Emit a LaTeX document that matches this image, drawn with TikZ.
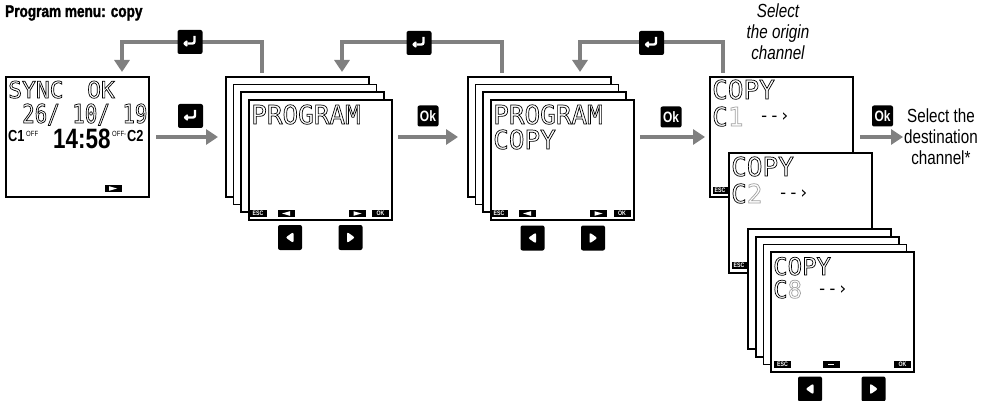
\documentclass[tikz,border=0pt]{standalone}
\usepackage{fontspec}
\setmainfont{Liberation Sans}
\newfontfamily\cond[FakeStretch=0.8]{Liberation Sans}
\newfontfamily\condb[FakeStretch=0.8,FakeBold=1.6]{Liberation Sans Bold}
\newfontfamily\lcd{DejaVu Sans Mono}
\newfontfamily\lcdn[FakeStretch=0.8]{DejaVu Sans Mono}
\usetikzlibrary{arrows.meta}
\definecolor{conng}{RGB}{128,128,128}
\definecolor{digg}{RGB}{160,160,160}
\newcommand\olt[1]{\special{pdf:literal direct 1 Tr 0.7 w}#1\special{pdf:literal direct 0 Tr 0.4 w}}
\begin{document}
\begin{tikzpicture}[x=1pt,y=-1pt,
  sheet/.style={draw=black, fill=white, line width=1.2pt, minimum width=143pt, minimum height=120pt, inner sep=0pt, outer sep=0pt, anchor=north west},
  conn/.style={draw=conng, line width=4.5pt, -{Triangle[length=12pt,width=15pt]}},
  lcdtxt/.style={anchor=base west, inner sep=0pt, font=\lcd\fontsize{26}{26}\selectfont},
  arrtxt/.style={anchor=base west, inner sep=0pt, font=\lcd\fontsize{17}{17}\selectfont},
  plain/.style={anchor=base west, inner sep=0pt},
  bk/.style={fill=black, inner sep=0pt, text=white},
  sbtn/.style={bk, minimum width=17pt, minimum height=7pt},
  stxt/.style={sbtn, font=\cond\bfseries\fontsize{6.5}{6.5}\selectfont},
  srtri/.style={sbtn, path picture={\coordinate (pc) at (path picture bounding box.center);
     \fill[white] ([shift={(-4,-2.3)}]pc) -- ([shift={(4,0)}]pc) -- ([shift={(-4,2.3)}]pc) -- cycle;}},
  sltri/.style={sbtn, path picture={\coordinate (pc) at (path picture bounding box.center);
     \fill[white] ([shift={(4,-2.3)}]pc) -- ([shift={(-4,0)}]pc) -- ([shift={(4,2.3)}]pc) -- cycle;}},
  sdash/.style={sbtn, path picture={\coordinate (pc) at (path picture bounding box.center);
     \fill[white] ([shift={(-3,-0.9)}]pc) rectangle ([shift={(3,0.9)}]pc);}},
  nbtn/.style={bk, minimum width=24pt, minimum height=25pt, rounded corners=2pt},
  nl/.style={nbtn, path picture={\coordinate (pc) at (path picture bounding box.center);
     \fill[white] ([shift={(-4.5,0)}]pc) -- ([shift={(3.5,-5.5)}]pc) -- ([shift={(3.5,5.5)}]pc) -- cycle;}},
  nr/.style={nbtn, path picture={\coordinate (pc) at (path picture bounding box.center);
     \fill[white] ([shift={(4.5,0)}]pc) -- ([shift={(-3.5,-5.5)}]pc) -- ([shift={(-3.5,5.5)}]pc) -- cycle;}},
  entb/.style={bk, minimum width=25pt, minimum height=24pt, rounded corners=2pt,
     path picture={\coordinate (pc) at (path picture bounding box.center);
     \draw[white, line width=2.4pt] ([shift={(4.5,-6)}]pc) -- ([shift={(4.5,1.5)}]pc) -- ([shift={(-2.5,1.5)}]pc);
     \fill[white] ([shift={(-7.5,1.5)}]pc) -- ([shift={(-2.5,-2.5)}]pc) -- ([shift={(-2.5,5.5)}]pc) -- cycle;}},
  okb/.style={bk, minimum width=21pt, minimum height=21pt, rounded corners=2pt, font=\cond\bfseries\fontsize{15}{15}\selectfont}
]
\useasboundingbox (0,0) rectangle (986,401);

% title
\node[plain, font=\condb\fontsize{17}{17}\selectfont] (title) at (5,17) {Program menu: copy};

% screen 1
\node[sheet, line width=1.6pt] (s1) at (6,77) {};
\node[lcdtxt, font=\lcd\fontsize{23}{23}\selectfont] (s1a) at (8,98) {\olt{SYNC}};
\node[lcdtxt, font=\lcd\fontsize{23}{23}\selectfont] (s1b) at (87,98) {\olt{OK}};
\node[plain, font=\lcdn\fontsize{26}{26}\selectfont] (s1c) at (22,123) {\olt{26/ 10/ 19}};
\node[plain, font=\cond\bfseries\fontsize{16}{16}\selectfont] (c1l) at (8,142) {C1};
\node[plain, font=\cond\fontsize{7.5}{7.5}\selectfont] (off1) at (26,137) {OFF};
\node[plain, font=\cond\bfseries\fontsize{28}{28}\selectfont] (time) at (53,149) {14:58};
\node[plain, font=\cond\fontsize{7.5}{7.5}\selectfont] (off2) at (112,137) {OFF-};
\node[plain, font=\cond\bfseries\fontsize{16}{16}\selectfont] (c2l) at (127,142) {C2};
\node[srtri] (s1btn) at (113,188.5) {};

% stack 2
\node[sheet] (s2a) at (226,77) {};
\node[sheet] (s2b) at (233.5,84.5) {};
\node[sheet] (s2c) at (241,92) {};
\node[sheet] (s2d) at (249,100) {};
\node[lcdtxt] (t2) at (251,124) {\olt{PROGRAM}};
\node[stxt] (esc2) at (258,213.5) {ESC};
\node[sltri] (l2) at (286,213.5) {};
\node[srtri] (r2) at (357.5,213.5) {};
\node[stxt] (ok2) at (380.5,213.5) {OK};
\node[nl] (nl2) at (290,237.5) {};
\node[nr] (nr2) at (350.5,237.5) {};

% stack 3
\node[sheet] (s3a) at (468,77) {};
\node[sheet] (s3b) at (475.5,84.5) {};
\node[sheet] (s3c) at (483,92) {};
\node[sheet] (s3d) at (491,100) {};
\node[lcdtxt] (t3a) at (493,124) {\olt{PROGRAM}};
\node[lcdtxt] (t3b) at (493,149) {\olt{COPY}};
\node[stxt] (esc3) at (499,213.5) {ESC};
\node[sltri] (l3) at (527,213.5) {};
\node[srtri] (r3) at (598.5,213.5) {};
\node[stxt] (ok3) at (622,213.5) {OK};
\node[nl] (nl3) at (532.5,238) {};
\node[nr] (nr3) at (593,238) {};

% C1 screen
\node[sheet] (c1) at (710,77) {};
\node[lcdtxt] (c1t) at (712,99) {\olt{COPY}};
\node[lcdtxt] (c1c) at (712,126) {\olt{C\textcolor{digg}{1}}};
\node[arrtxt] (c1a) at (759,122) {--›};
\node[stxt, minimum width=15pt] (esc4) at (720,190.5) {ESC};

% C2 screen
\node[sheet] (c2) at (729,153) {};
\node[lcdtxt] (c2t) at (731,176) {\olt{COPY}};
\node[lcdtxt] (c2c) at (731,203) {\olt{C\textcolor{digg}{2}}};
\node[arrtxt] (c2a) at (778,199) {--›};
\node[stxt, minimum width=15pt] (esc5) at (739,265.5) {ESC};

% C8 stack
\node[sheet] (c8a) at (748,229) {};
\node[sheet] (c8b) at (756,237) {};
\node[sheet] (c8c) at (763.5,244.5) {};
\node[sheet] (c8d) at (771,252) {};
\node[lcdtxt, font=\lcd\fontsize{24}{24}\selectfont] (c8t) at (773,275) {\olt{COPY}};
\node[lcdtxt, font=\lcd\fontsize{24}{24}\selectfont] (c8c2) at (773,298) {\olt{C\textcolor{digg}{8}}};
\node[arrtxt] (c8ar) at (817,294) {--›};
\node[stxt] (esc6) at (782.5,364.5) {ESC};
\node[sdash] (d6) at (831,364.5) {};
\node[stxt] (ok6) at (902.5,364.5) {OK};
\node[nl] (nl6) at (810,389) {};
\node[nr] (nr6) at (873.5,389) {};

% texts
\node[font=\cond\itshape\fontsize{19}{21}\selectfont, align=center, anchor=north, inner sep=0pt] (orig) at (778,4) {Select\\the origin\\channel};
\node[font=\cond\fontsize{19}{21}\selectfont, align=center, anchor=west, inner sep=0pt] (dest) at (904,137) {Select the\\destination\\channel*};

% forward connectors
\draw[conn, shorten <=7pt, shorten >=8pt] (s1.east) -- (s2a.west);
\draw[conn, shorten <=6pt, shorten >=10pt] (s2d.east |- s2a.west) -- (s3a.west);
\draw[conn, shorten <=6pt, shorten >=5pt] (s3d.east |- s3a.west) -- (c1.west);
\draw[conn, shorten <=7pt, shorten >=1pt] (c1.east) -- (dest.west);

% feedback connectors
\coordinate (toprow) at (0,42);
\coordinate (f1s) at ([xshift=36pt]s2a.north west);
\coordinate (f1e) at ([xshift=116pt]s1.north west);
\coordinate (f2s) at ([xshift=34pt]s3a.north west);
\coordinate (f2e) at ([xshift=116pt]s2a.north west);
\coordinate (f3s) at ([xshift=13pt]c1.north west);
\coordinate (f3e) at ([xshift=112pt]s3a.north west);
\draw[conn, shorten <=4pt, shorten >=5pt] (f1s) -- (f1s |- toprow) -| (f1e);
\draw[conn, shorten <=4pt, shorten >=5pt] (f2s) -- (f2s |- toprow) -| (f2e);
\draw[conn, shorten <=4pt, shorten >=5pt] (f3s) -- (f3s |- toprow) -| (f3e);

% key buttons
\node[entb] (e1) at (190,42) {};
\node[entb] (e2) at (419,43) {};
\node[entb] (e3) at (651.5,43) {};
\node[entb] (e0) at (190.5,116) {};
\node[okb] (k2) at (428,116) {Ok};
\node[okb] (k3) at (671,117) {Ok};
\node[okb] (k4) at (882.5,116) {Ok};
\end{tikzpicture}
\end{document}
